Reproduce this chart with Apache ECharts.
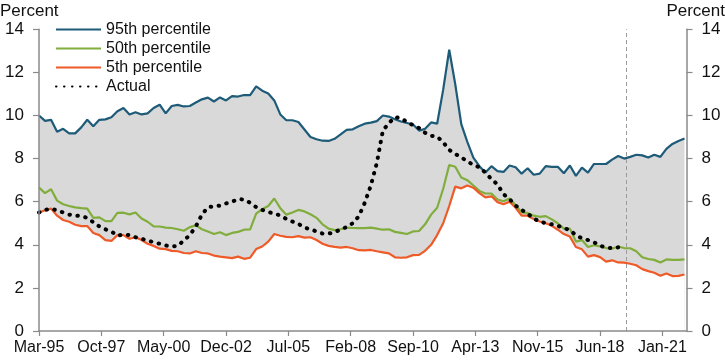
<!DOCTYPE html>
<html><head><meta charset="utf-8">
<script src="https://cdn.jsdelivr.net/npm/echarts@6/dist/echarts.min.js"></script>
<style>html,body{margin:0;padding:0;background:#fff}#c{width:725px;height:361px}</style>
</head><body><div id="c"></div>
<script>
// Quarterly observations, first one = Mar-95; x is months since Mar-95
const firstLabel = 'Mar-95';
const monthsPerObs = 3;
const tickEveryMonths = 31;
const axisEndMonth = 322;
const dashedLineMonth = 292; // Jul-19
const tickLabels = ['Mar-95','Oct-97','May-00','Dec-02','Jul-05','Feb-08','Sep-10','Apr-13','Nov-15','Jun-18','Jan-21'];

const p95 = [10.0,9.75,9.8,9.25,9.38,9.17,9.17,9.45,9.8,9.5,9.8,9.82,9.92,10.2,10.35,10.05,10.15,10.05,10.1,10.35,
10.5,10.1,10.44,10.49,10.42,10.44,10.6,10.75,10.83,10.65,10.84,10.7,10.9,10.88,10.95,10.95,11.35,11.15,11.02,10.7,
10.05,9.78,9.78,9.7,9.35,9.0,8.9,8.83,8.82,8.92,9.12,9.33,9.36,9.5,9.62,9.67,9.74,10.0,9.95,9.83,
9.72,9.65,9.58,9.3,9.38,9.68,9.62,11.2,13.05,11.45,9.6,8.78,8.05,7.65,7.35,7.65,7.42,7.38,7.68,7.6,
7.3,7.55,7.25,7.3,7.65,7.62,7.62,7.32,7.68,7.2,7.58,7.35,7.75,7.75,7.75,7.95,8.12,8.0,8.08,8.18,
8.15,8.05,8.18,8.08,8.45,8.68,8.82,8.93];

const p50 = [6.65,6.4,6.58,6.05,5.88,5.8,5.74,5.7,5.68,5.25,5.27,5.1,5.1,5.48,5.49,5.41,5.5,5.22,5.07,4.85,
4.85,4.8,4.78,4.72,4.65,4.82,4.9,4.72,4.62,4.5,4.58,4.45,4.55,4.6,4.7,4.72,5.45,5.65,5.8,6.15,
5.7,5.4,5.5,5.62,5.55,5.42,5.25,4.95,4.75,4.68,4.72,4.8,4.78,4.77,4.77,4.8,4.75,4.7,4.72,4.6,
4.55,4.5,4.62,4.64,4.95,5.4,5.72,6.6,7.7,7.62,7.12,7.0,6.75,6.5,6.38,6.38,6.1,6.02,6.15,5.85,
5.5,5.48,5.35,5.3,5.33,5.18,5.0,4.75,4.75,4.15,4.22,3.9,3.98,3.93,3.85,3.82,3.92,3.85,3.84,3.7,
3.42,3.34,3.3,3.18,3.32,3.3,3.3,3.32];

const p5 = [5.5,5.6,5.68,5.35,5.15,5.07,4.93,4.87,4.87,4.55,4.45,4.22,4.18,4.45,4.45,4.28,4.35,4.22,4.05,3.95,
3.82,3.8,3.72,3.7,3.62,3.6,3.7,3.62,3.6,3.5,3.45,3.42,3.38,3.45,3.35,3.4,3.8,3.92,4.15,4.5,
4.42,4.37,4.35,4.4,4.33,4.35,4.22,4.05,3.95,3.9,3.87,3.9,3.84,3.75,3.74,3.76,3.7,3.65,3.6,3.42,
3.4,3.42,3.52,3.53,3.72,4.0,4.45,5.0,5.8,6.7,6.62,6.75,6.65,6.4,6.2,6.25,5.98,5.88,6.0,5.72,
5.35,5.35,5.2,5.08,5.0,4.88,4.7,4.5,4.38,3.9,3.79,3.45,3.52,3.43,3.22,3.28,3.18,3.17,3.12,3.05,
2.87,2.78,2.7,2.56,2.67,2.55,2.56,2.62];

const actual = [5.5,5.62,5.67,5.6,5.5,5.4,5.36,5.33,5.25,5.05,4.85,4.72,4.62,4.42,4.48,4.45,4.35,4.28,4.2,4.12,
4.05,3.97,3.92,3.95,4.2,4.45,4.85,5.4,5.75,5.78,5.82,5.92,6.0,6.12,6.1,5.95,5.75,5.62,5.52,5.45,
5.36,5.2,5.08,4.97,4.8,4.72,4.62,4.52,4.52,4.58,4.72,4.82,5.0,5.32,5.95,6.75,7.8,9.3,9.65,9.92,
9.88,9.7,9.55,9.42,9.2,9.06,9.02,8.76,8.4,8.22,8.05,7.88,7.7,7.6,7.35,7.05,6.8,6.35,6.12,5.82,
5.62,5.45,5.22,5.08,5.0,4.95,4.88,4.78,4.68,4.45,4.3,4.22,4.12,3.95,3.88,3.84,3.88];

const C95 = '#1d5b78', C50 = '#80ad3c', C5 = '#ee5a28', CBAND = '#d9d9d9', CAXIS = '#8a8a8a';
const FONT = 'Liberation Sans, Arial, sans-serif';

const xy = arr => arr.map((v, i) => [i * monthsPerObs, v]);

const yAxisBase = {
  type: 'value', min: 0, max: 14, interval: 2, z: 10,
  axisLine: { show: true, lineStyle: { color: CAXIS, width: 1.5 } },
  axisTick: { show: true, length: 6, lineStyle: { color: CAXIS, width: 1.2 } },
  axisLabel: { color: '#111', fontSize: 17, fontFamily: FONT, margin: 15 },
  splitLine: { show: false }
};

const chart = echarts.init(document.getElementById('c'), null, { renderer: 'canvas' });
chart.setOption({
  animation: false,
  backgroundColor: '#fff',
  grid: { left: 39, right: 38.5, top: 29.3, bottom: 30, containLabel: false },
  xAxis: {
    type: 'value', min: 0, max: axisEndMonth, interval: tickEveryMonths, z: 10,
    axisLine: { show: true, onZero: false, lineStyle: { color: CAXIS, width: 1.5 } },
    axisTick: { show: true, length: 5, lineStyle: { color: CAXIS, width: 1.2 } },
    axisLabel: {
      color: '#111', fontSize: 16, fontFamily: FONT, margin: 9, showMaxLabel: false,
      formatter: v => (v % tickEveryMonths === 0 ? (tickLabels[v / tickEveryMonths] || '') : '')
    },
    splitLine: { show: false }
  },
  yAxis: [
    Object.assign({}, yAxisBase, { position: 'left' }),
    Object.assign({}, yAxisBase, { position: 'right' })
  ],
  legend: {
    data: ['95th percentile', '50th percentile', '5th percentile', 'Actual'],
    orient: 'vertical', left: 55, top: 20, itemWidth: 45, itemHeight: 12, itemGap: 0,
    padding: 0, selectedMode: false,
    itemStyle: { opacity: 0 },
    textStyle: { color: '#111', fontSize: 16, fontFamily: FONT, lineHeight: 19 }
  },
  graphic: [
    { type: 'text', left: 0, top: 3, style: { text: 'Percent', fontSize: 17, fontFamily: FONT, fill: '#111' } },
    { type: 'text', right: 0, top: 3, style: { text: 'Percent', fontSize: 17, fontFamily: FONT, fill: '#111' } }
  ],
  series: [
    { name: 'upperFill', type: 'line', data: xy(p95), symbol: 'none', silent: true,
      lineStyle: { opacity: 0 }, areaStyle: { color: CBAND, opacity: 1 }, z: 1 },
    { name: 'lowerMask', type: 'line', data: xy(p5), symbol: 'none', silent: true,
      lineStyle: { opacity: 0 }, areaStyle: { color: '#ffffff', opacity: 1 }, z: 1 },
    { name: '95th percentile', type: 'line', data: xy(p95), symbol: 'none', z: 3,
      lineStyle: { color: C95, width: 2.2 }, itemStyle: { color: C95 } },
    { name: '50th percentile', type: 'line', data: xy(p50), symbol: 'none', z: 3,
      lineStyle: { color: C50, width: 2.2 }, itemStyle: { color: C50 } },
    { name: '5th percentile', type: 'line', data: xy(p5), symbol: 'none', z: 3,
      lineStyle: { color: C5, width: 2.2 }, itemStyle: { color: C5 } },
    { name: 'Actual', type: 'line', data: xy(actual), symbol: 'none', z: 4,
      lineStyle: { color: '#000', width: 4, type: [0.5, 7.5], cap: 'round' }, itemStyle: { color: '#000' },
      markLine: { silent: true, symbol: 'none', label: { show: false },
        lineStyle: { color: '#9a9a9a', width: 1, type: [4, 3] },
        data: [{ xAxis: dashedLineMonth }] } }
  ]
});
</script></body></html>
